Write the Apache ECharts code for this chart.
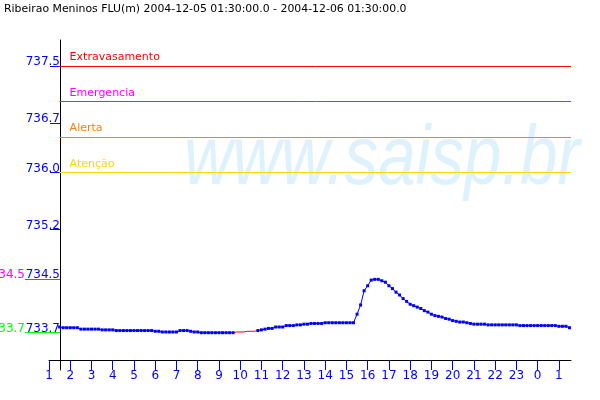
<!DOCTYPE html>
<html><head><meta charset="utf-8">
<script src="https://cdn.jsdelivr.net/npm/echarts@6/dist/echarts.min.js"></script>
<style>html,body{margin:0;padding:0;background:#fff}#c{width:600px;height:400px}</style>
</head><body><div id="c"></div>
<script>
const titleText = 'Ribeirao Meninos FLU(m) 2004-12-05 01:30:00.0 - 2004-12-06 01:30:00.0';
const watermarkText = 'www.saisp.br';
// time of first reading in hours since 2004-12-05 00:00, readings every 10 minutes
const startHour = 1.5;
const stepHours = 1 / 6;
const levelValues = [
  733.83, 733.82, 733.82, 733.82, 733.82, 733.82,
  733.80, 733.80, 733.80, 733.80, 733.80, 733.80,
  733.79, 733.79, 733.79, 733.79,
  733.78, 733.78, 733.78, 733.78, 733.78, 733.78, 733.78, 733.78, 733.78, 733.78, 733.78,
  733.77, 733.77,
  733.76, 733.76, 733.76, 733.76, 733.76,
  733.78, 733.78, 733.78,
  733.77, 733.76, 733.76,
  733.75, 733.75, 733.75, 733.75, 733.75, 733.75, 733.75, 733.75, 733.75, 733.75,
  null, null, null, null, null, null,
  733.78, 733.79, 733.80, 733.81, 733.81,
  733.83, 733.83, 733.83,
  733.85, 733.85, 733.85,
  733.86, 733.86,
  733.87, 733.87,
  733.88, 733.88, 733.88, 733.88,
  733.89, 733.89, 733.89, 733.89, 733.89, 733.89, 733.89, 733.89, 733.89,
  734.01, 734.14, 734.34, 734.41, 734.49, 734.50, 734.50, 734.48, 734.46, 734.41,
  734.37, 734.32, 734.28, 734.23, 734.19, 734.15, 734.13, 734.11, 734.09, 734.06,
  734.04, 734.01, 733.99, 733.98, 733.97, 733.95, 733.94, 733.92, 733.91, 733.90,
  733.90, 733.89, 733.88,
  733.87, 733.87, 733.87, 733.87,
  733.86, 733.86, 733.86, 733.86, 733.86, 733.86, 733.86, 733.86, 733.86,
  733.85, 733.85, 733.85, 733.85, 733.85, 733.85, 733.85, 733.85, 733.85, 733.85, 733.85,
  733.84, 733.84, 733.84,
  733.82
];
// gap-filled (estimated) stretch drawn in red
const estimatedStartIndex = 49;
const estimatedValues = [733.75, 733.76, 733.76, 733.76, 733.77, 733.77, 733.77, 733.78];

const thresholdNames = ['Extravasamento', 'Emergencia', 'Alerta', 'Atenção'];
const thresholdValues = [737.5, 737.0, 736.5, 736.0];
const thresholdColors = ['#ff0000', '#ff00ff', '#ff8000', '#ffd700'];

const yTickValues = [733.75, 734.5, 735.2, 736.0, 736.7, 737.5];
const yTickLabels = ['733.7', '734.5', '735.2', '736.0', '736.7', '737.5'];
const xTickValues = [1, 2, 3, 4, 5, 6, 7, 8, 9, 10, 11, 12, 13, 14, 15, 16, 17, 18, 19, 20, 21, 22, 23, 24, 25];
const xTickLabels = ['1', '2', '3', '4', '5', '6', '7', '8', '9', '10', '11', '12', '13', '14', '15', '16', '17', '18', '19', '20', '21', '22', '23', '0', '1'];

// axis extents (layout)
const xMin = 1, xMax = 25.57;
const yMin = 733.2255, yMax = 737.8656;

const levelData = levelValues.map((v, i) => [startHour + i * stepHours, v]);
const estData = estimatedValues.map((v, k) => [startHour + (estimatedStartIndex + k) * stepHours, v]);
const valid = levelValues.filter(v => v != null);
const maxLevel = Math.max.apply(null, valid);
const minLevel = Math.min.apply(null, valid);
const trunc1 = v => (Math.floor(v * 10 + 1e-6) / 10).toFixed(1);

const F = 'DejaVu Sans';
const chart = echarts.init(document.getElementById('c'), null, {renderer: 'canvas'});
chart.setOption({
  animation: false,
  backgroundColor: '#ffffff',
  textStyle: {fontFamily: F},
  title: {
    text: titleText, left: 4, top: 4, padding: 0,
    textStyle: {fontFamily: F, fontSize: 10.9, fontWeight: 'normal', color: '#000000'}
  },
  graphic: [{
    type: 'text', x: 184, y: 203, scaleX: 0.8, z: 0, silent: true,
    style: {text: watermarkText, font: 'italic 84px "Liberation Sans"', fill: '#ddf2fd', verticalAlign: 'bottom'}
  }],
  grid: {left: 49, right: 29, top: 40, bottom: 30},
  xAxis: {
    type: 'value', min: xMin, max: xMax, offset: -10,
    axisLine: {show: true, onZero: false, lineStyle: {color: '#000000', width: 1}},
    axisTick: {show: true, length: 10, customValues: xTickValues, lineStyle: {color: '#0000ff', width: 1}},
    axisLabel: {
      customValues: xTickValues, margin: 10, color: '#0000ff', fontSize: 12, fontFamily: F,
      formatter: v => xTickLabels[xTickValues.indexOf(v)]
    },
    splitLine: {show: false}
  },
  yAxis: {
    type: 'value', min: yMin, max: yMax, offset: -11,
    axisLine: {show: true, onZero: false, lineStyle: {color: '#000000', width: 1}},
    axisTick: {show: true, length: 10, customValues: yTickValues, lineStyle: {color: '#0000ff', width: 1}},
    axisLabel: {
      customValues: yTickValues, margin: 0, color: '#0000ff', fontSize: 12, fontFamily: F,
      verticalAlign: 'bottom', lineHeight: 8,
      formatter: v => yTickLabels[yTickValues.indexOf(v)]
    },
    splitLine: {show: false}
  },
  series: [
    {
      type: 'line', data: levelData, z: 4,
      symbol: 'rect', symbolSize: 3, showSymbol: true, showAllSymbol: true,
      itemStyle: {color: '#0000ff'},
      lineStyle: {color: '#0000ff', width: 1},
      connectNulls: false,
      markLine: {
        silent: true, symbol: ['none', 'none'], animation: false,
        data: thresholdValues.map((v, k) => [
          {
            coord: [startHour, v],
            lineStyle: {color: thresholdColors[k], width: 1, type: 'solid'},
            label: {show: true, position: 'insideStartTop', formatter: thresholdNames[k],
                    color: thresholdColors[k], fontSize: 11, fontFamily: F, distance: [10, 3]}
          },
          {coord: [xMax, v]}
        ]).concat([
          [
            {yAxis: maxLevel, x: 25, lineStyle: {color: '#ff00ff', width: 1, type: 'solid'},
             label: {show: true, position: 'start', distance: 0, formatter: trunc1(maxLevel),
                     color: '#ff00ff', fontSize: 12, fontFamily: F, verticalAlign: 'bottom', lineHeight: 8}},
            {yAxis: maxLevel, x: 60}
          ],
          [
            {yAxis: minLevel, x: 25, lineStyle: {color: '#00ff00', width: 1, type: 'solid'},
             label: {show: true, position: 'start', distance: 0, formatter: trunc1(minLevel),
                     color: '#00ff00', fontSize: 12, fontFamily: F, verticalAlign: 'bottom', lineHeight: 8}},
            {yAxis: minLevel, x: 60}
          ]
        ])
      }
    },
    {
      type: 'line', data: estData, z: 3,
      showSymbol: false, symbol: 'none',
      lineStyle: {color: '#ff0000', width: 1}
    }
  ]
});
</script>
</body></html>
